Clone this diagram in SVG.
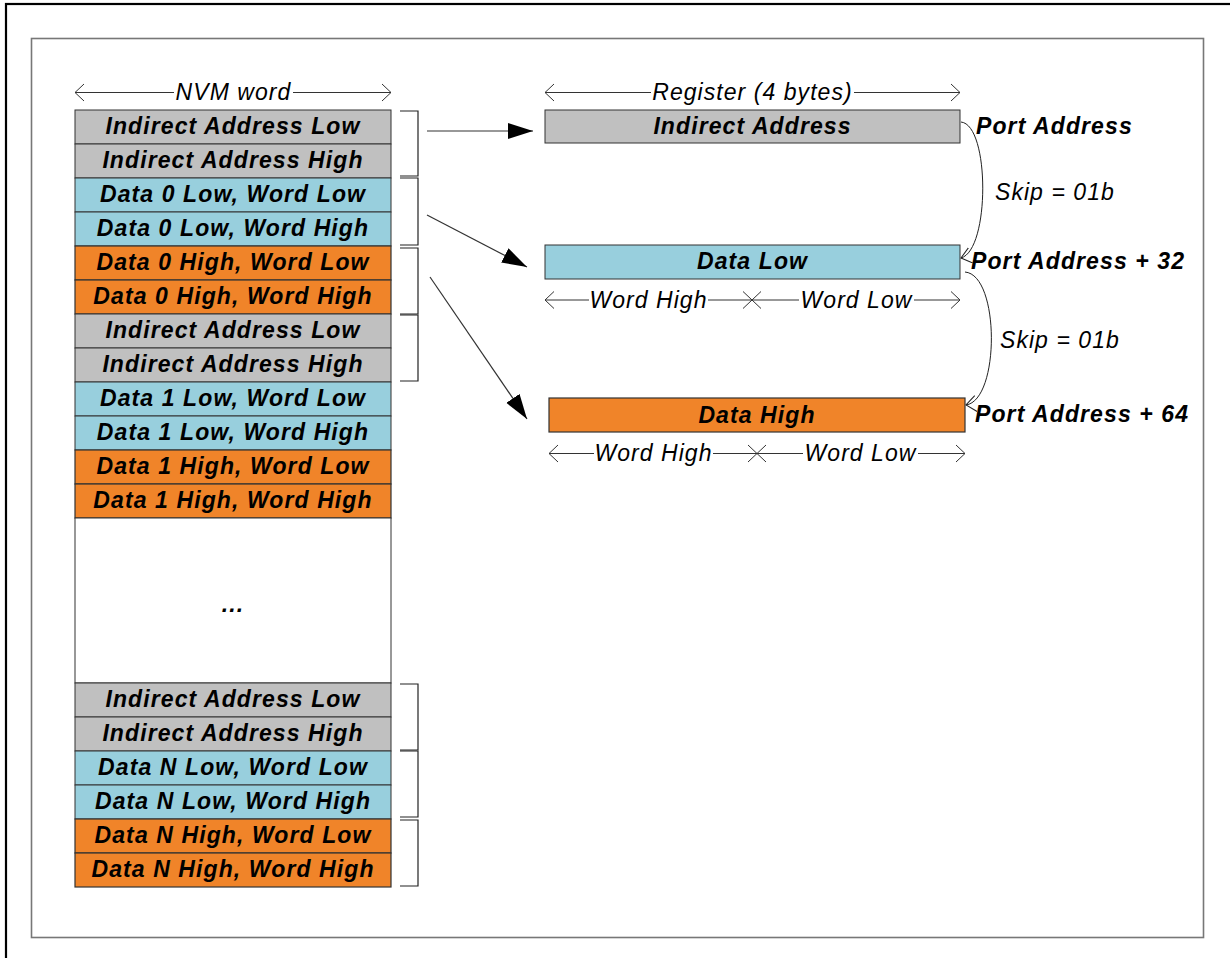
<svg xmlns="http://www.w3.org/2000/svg" width="1230" height="958" viewBox="0 0 1230 958">
<style>
.b{font-family:"Liberation Sans",Arial,sans-serif;font-weight:bold;font-style:italic;font-size:23px;letter-spacing:1.1px;fill:#000;text-anchor:middle}
.bl{font-family:"Liberation Sans",Arial,sans-serif;font-weight:bold;font-style:italic;font-size:23px;letter-spacing:1.1px;fill:#000}
.i{font-family:"Liberation Sans",Arial,sans-serif;font-style:italic;font-size:23px;letter-spacing:1.05px;fill:#000}
.ic{font-family:"Liberation Sans",Arial,sans-serif;font-style:italic;font-size:23px;letter-spacing:1.05px;fill:#000;text-anchor:middle}
.g{fill:#C0C0C0;stroke:#333;stroke-width:1}
.c{fill:#98CFDD;stroke:#333;stroke-width:1}
.o{fill:#F08429;stroke:#333;stroke-width:1.2}
.w{fill:#fff;stroke:#333;stroke-width:1}
.br{fill:none;stroke:#222;stroke-width:1.2}
.dim{fill:none;stroke:#333;stroke-width:1}
.arr{fill:none;stroke:#333;stroke-width:1.2;marker-end:url(#fill)}
.cur{fill:none;stroke:#222;stroke-width:1;marker-end:url(#open)}
</style>
<defs>
<marker id="fill" markerUnits="userSpaceOnUse" markerWidth="28" markerHeight="18" refX="25" refY="8" orient="auto">
<path d="M0,0 L25,8 L0,16 Z" fill="#000"/>
</marker>
<marker id="open" markerUnits="userSpaceOnUse" markerWidth="14" markerHeight="18" refX="10" refY="8" orient="auto">
<path d="M0,0 L10,8 L0,16" fill="none" stroke="#222" stroke-width="1"/>
</marker>
</defs>

<rect x="6" y="4" width="1240" height="980" fill="#fff" stroke="#000" stroke-width="2.2"/>
<rect x="31.5" y="38.5" width="1172" height="899" fill="#fff" stroke="#777" stroke-width="1.6"/>

<g id="nvm-column">
<g id="r1"><rect class="g" x="75" y="110" width="316" height="34"/><text class="b" x="233" y="134">Indirect Address Low</text></g>
<g id="r2"><rect class="g" x="75" y="144" width="316" height="34"/><text class="b" x="233" y="168">Indirect Address High</text></g>
<g id="r3"><rect class="c" x="75" y="178" width="316" height="34"/><text class="b" x="233" y="202">Data 0 Low, Word Low</text></g>
<g id="r4"><rect class="c" x="75" y="212" width="316" height="34"/><text class="b" x="233" y="236">Data 0 Low, Word High</text></g>
<g id="r5"><rect class="o" x="75" y="246" width="316" height="34"/><text class="b" x="233" y="270">Data 0 High, Word Low</text></g>
<g id="r6"><rect class="o" x="75" y="280" width="316" height="34"/><text class="b" x="233" y="304">Data 0 High, Word High</text></g>
<g id="r7"><rect class="g" x="75" y="314" width="316" height="34"/><text class="b" x="233" y="338">Indirect Address Low</text></g>
<g id="r8"><rect class="g" x="75" y="348" width="316" height="34"/><text class="b" x="233" y="372">Indirect Address High</text></g>
<g id="r9"><rect class="c" x="75" y="382" width="316" height="34"/><text class="b" x="233" y="406">Data 1 Low, Word Low</text></g>
<g id="r10"><rect class="c" x="75" y="416" width="316" height="34"/><text class="b" x="233" y="440">Data 1 Low, Word High</text></g>
<g id="r11"><rect class="o" x="75" y="450" width="316" height="34"/><text class="b" x="233" y="474">Data 1 High, Word Low</text></g>
<g id="r12"><rect class="o" x="75" y="484" width="316" height="34"/><text class="b" x="233" y="508">Data 1 High, Word High</text></g>
<g id="ellipsis"><rect class="w" x="75" y="518" width="316" height="165"/><text class="b" x="233" y="612">...</text></g>
<g id="r13"><rect class="g" x="75" y="683" width="316" height="34"/><text class="b" x="233" y="707">Indirect Address Low</text></g>
<g id="r14"><rect class="g" x="75" y="717" width="316" height="34"/><text class="b" x="233" y="741">Indirect Address High</text></g>
<g id="r15"><rect class="c" x="75" y="751" width="316" height="34"/><text class="b" x="233" y="775">Data N Low, Word Low</text></g>
<g id="r16"><rect class="c" x="75" y="785" width="316" height="34"/><text class="b" x="233" y="809">Data N Low, Word High</text></g>
<g id="r17"><rect class="o" x="75" y="819" width="316" height="34"/><text class="b" x="233" y="843">Data N High, Word Low</text></g>
<g id="r18"><rect class="o" x="75" y="853" width="316" height="34"/><text class="b" x="233" y="877">Data N High, Word High</text></g>
</g>

<g id="brackets">
<path class="br" d="M400,111 H418 V176 H400"/>
<path class="br" d="M400,178 H418 V245 H400"/>
<path class="br" d="M400,248 H418 V314 H400"/>
<path class="br" d="M400,315 H418 V381 H400"/>
<path class="br" d="M400,684 H418 V750 H400"/>
<path class="br" d="M400,751 H418 V817 H400"/>
<path class="br" d="M400,820 H418 V886 H400"/>
</g>

<g id="dimensions">
<path class="dim" d="M174,92.5 H75 M84,84 L75,92.5 L84,101"/>
<path class="dim" d="M293,92.5 H391 M382,84 L391,92.5 L382,101"/>
<text class="ic" x="233.5" y="99.5">NVM word</text>

<path class="dim" d="M651,92.5 H545 M554,84 L545,92.5 L554,101"/>
<path class="dim" d="M854,92.5 H960 M951,84 L960,92.5 L951,101"/>
<text class="ic" x="752.5" y="99.5">Register (4 bytes)</text>

<path class="dim" d="M589,300 H545 M554,291.5 L545,300 L554,308.5"/>
<path class="dim" d="M708,300 H752 M743,291.5 L752,300 L743,308.5"/>
<path class="dim" d="M799,300 H752 M761,291.5 L752,300 L761,308.5"/>
<path class="dim" d="M914,300 H960 M951,291.5 L960,300 L951,308.5"/>
<text class="ic" x="648.5" y="307.5">Word High</text>
<text class="ic" x="856.5" y="307.5">Word Low</text>

<path class="dim" d="M594,453.5 H549 M558,445 L549,453.5 L558,462"/>
<path class="dim" d="M713,453.5 H757 M748,445 L757,453.5 L748,462"/>
<path class="dim" d="M803,453.5 H757 M766,445 L757,453.5 L766,462"/>
<path class="dim" d="M918,453.5 H965 M956,445 L965,453.5 L956,462"/>
<text class="ic" x="653.5" y="461">Word High</text>
<text class="ic" x="860.5" y="461">Word Low</text>
</g>

<g id="reg-indirect"><rect class="g" x="545" y="110" width="415" height="33"/><text class="b" x="752.5" y="133.5">Indirect Address</text></g>
<g id="reg-datalow"><rect class="c" x="545" y="245" width="415" height="34"/><text class="b" x="752.5" y="269">Data Low</text></g>
<g id="reg-datahigh"><rect class="o" x="549" y="398" width="416" height="34"/><text class="b" x="757" y="422.5">Data High</text></g>

<g id="labels">
<text class="bl" x="976" y="133.5">Port Address</text>
<text class="bl" x="971" y="268.5">Port Address + 32</text>
<text class="bl" x="975" y="422">Port Address + 64</text>
<text class="i" x="995" y="199.5">Skip = 01b</text>
<text class="i" x="1000" y="347.5">Skip = 01b</text>
</g>

<g id="connectors">
<path class="arr" d="M427,131 L533,131"/>
<path class="arr" d="M427,215 L527,267"/>
<path class="arr" d="M430,277 L527,419"/>
<path class="cur" d="M961,122 C990,125 990,250 961,258"/>
<path class="cur" d="M965,272 C1000,275 1000,400 966,405"/>
</g>
</svg>
